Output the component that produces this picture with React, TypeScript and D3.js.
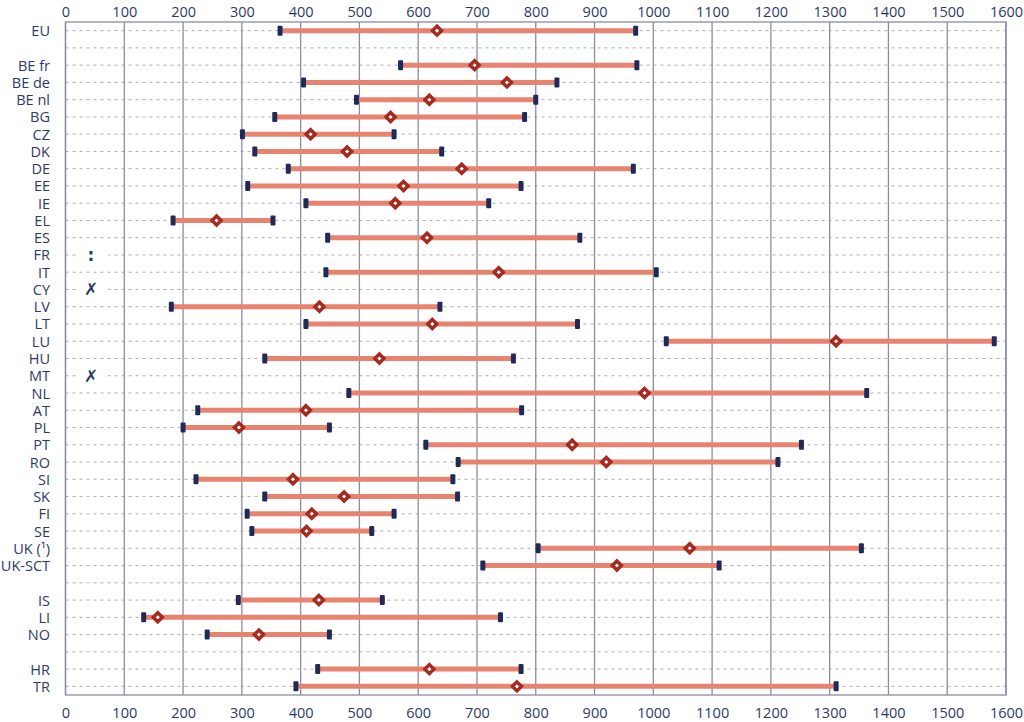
import React, { useEffect, useRef } from 'react';
import * as d3 from 'd3';

// row labels, "" marks an empty spacer row
const rows = ['EU', '', 'BE fr', 'BE de', 'BE nl', 'BG', 'CZ', 'DK', 'DE', 'EE', 'IE', 'EL', 'ES', 'FR', 'IT', 'CY', 'LV', 'LT', 'LU', 'HU', 'MT', 'NL', 'AT', 'PL', 'PT', 'RO', 'SI', 'SK', 'FI', 'SE', 'UK (¹)', 'UK-SCT', '', 'IS', 'LI', 'NO', '', 'HR', 'TR'];
const minVals = [365, null, 570, 405, 495, 356, 301, 322, 379, 310, 409, 183, 446, null, 443, null, 180, 409, 1022, 339, null, 482, 225, 200, 613, 668, 222, 339, 309, 317, 804, 710, null, 294, 133, 241, null, 429, 392];
const avgVals = [632, null, 696, 751, 619, 553, 417, 479, 674, 575, 561, 257, 615, null, 737, null, 432, 624, 1311, 534, null, 985, 409, 295, 862, 920, 387, 474, 419, 410, 1062, 938, null, 431, 157, 329, null, 619, 768];
const maxVals = [970, null, 972, 836, 800, 781, 559, 640, 966, 775, 720, 353, 875, null, 1005, null, 637, 871, 1580, 762, null, 1363, 776, 449, 1252, 1212, 659, 667, 559, 521, 1354, 1112, null, 539, 740, 449, null, 775, 1311];
// symbols shown instead of a range
const notes: Record<string, string> = { FR: ':', CY: '✗', MT: '✗' };

const W = 1024;
const H = 722;
const textColor = '#2b3a67';
const gridColor = '#8b8ba7';

export default function App() {
  const topRef = useRef<SVGGElement>(null);
  const bottomRef = useRef<SVGGElement>(null);

  const keys = rows.map((r, i) => `${i}`);
  const x = d3.scaleLinear().domain([0, 1600]).range([65.5, 1006]);
  const y = d3.scaleBand().domain(keys).range([22, 695]).padding(0);
  const cy = (i: number) => (y(`${i}`) as number) + y.bandwidth() / 2;
  const ticks = d3.range(0, 1601, 100);

  useEffect(() => {
    const style = (g: d3.Selection<SVGGElement, unknown, null, undefined>) => {
      g.select('.domain').remove();
      g.selectAll('text')
        .attr('fill', textColor)
        .attr('font-size', 14.5)
        .attr('font-family', '"Open Sans", sans-serif');
    };
    d3.select(topRef.current!)
      .call(d3.axisTop(x).tickValues(ticks).tickSize(0).tickPadding(0).tickFormat(d3.format('d')))
      .call(style);
    d3.select(bottomRef.current!)
      .call(d3.axisBottom(x).tickValues(ticks).tickSize(0).tickPadding(0).tickFormat(d3.format('d')))
      .call(style);
  }, []);

  const diamond = (r: number) => `M0,${-r}L${r},0L0,${r}L${-r},0Z`;

  return (
    <svg width={W} height={H} style={{ position: 'absolute', left: 0, top: 0, background: '#fff' }}>
      {/* dashed row lines */}
      {rows.map((r, i) => (
        <line key={'h' + i} x1={x(0)} x2={x(1600)} y1={cy(i)} y2={cy(i)}
          stroke="#a2a2b2" strokeWidth={0.9} strokeDasharray="3,4" />
      ))}
      {/* vertical grid */}
      {ticks.map(t => (
        <line key={'v' + t} x1={x(t)} x2={x(t)} y1={22} y2={695} stroke={gridColor} strokeWidth={1.3} />
      ))}
      <rect x={x(0)} y={22} width={x(1600) - x(0)} height={673} fill="none" stroke={gridColor} strokeWidth={1.3} />

      {/* row labels */}
      {rows.map((r, i) => (
        <text key={'l' + i} x={50} y={cy(i)} textAnchor="end" dominantBaseline="central"
          fontSize={14.5} fill={textColor} fontFamily='"Open Sans", sans-serif'>{r}</text>
      ))}

      {/* missing-data symbols */}
      {rows.map((r, i) => notes[r] ? (
        <g key={'n' + i}>
          <rect x={76} y={cy(i) - 6} width={32} height={12} fill="#fff" />
          <text x={91} y={cy(i)} textAnchor="middle" dominantBaseline="central"
            fontSize={r === 'FR' ? 17 : 17} fontWeight="bold" fill={textColor}
            fontFamily='"DejaVu Sans", sans-serif'>{notes[r]}</text>
        </g>
      ) : null)}

      {/* ranges */}
      {rows.map((r, i) => {
        const lo = minVals[i], mid = avgVals[i], hi = maxVals[i];
        if (lo == null || hi == null || mid == null) return null;
        const yc = cy(i);
        return (
          <g key={'r' + i}>
            <line x1={x(lo)} x2={x(hi)} y1={yc} y2={yc} stroke="#e8836f" strokeWidth={5} />
            {[lo, hi].map((v, k) => (
              <rect key={k} x={x(v) - 2.5} y={yc - 5} width={5} height={10} rx={1} fill="#1f2b56" />
            ))}
            <path d={diamond(4.5)} transform={`translate(${x(mid)},${yc})`} fill="#fff" stroke="#a52a20" strokeWidth={3.5} />
          </g>
        );
      })}

      <g ref={topRef} transform="translate(0,16.5)" />
      <g ref={bottomRef} transform="translate(0,708)" />
    </svg>
  );
}
